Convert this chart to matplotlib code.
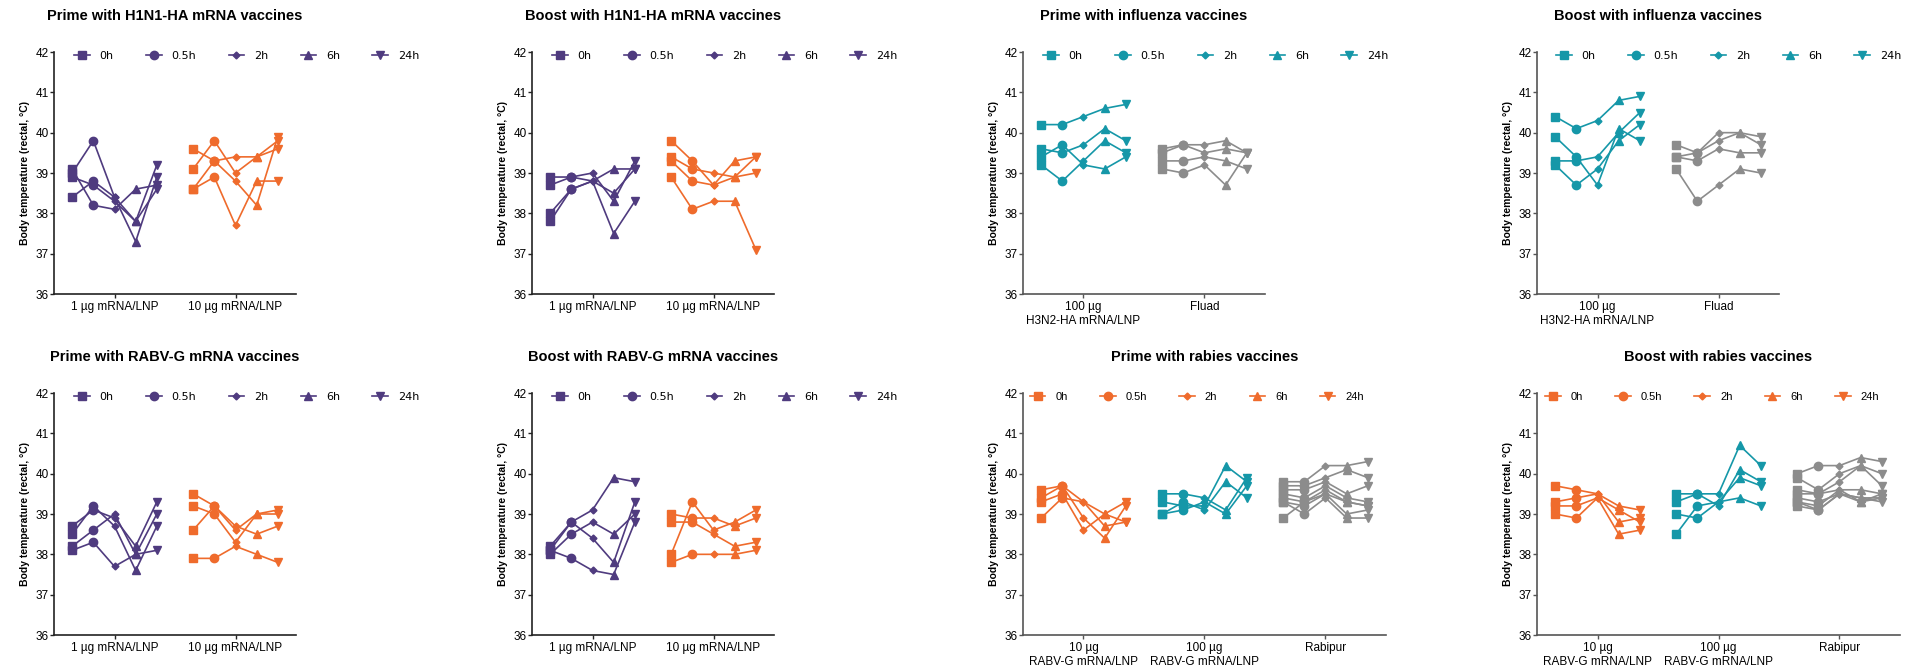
import numpy as np
import matplotlib
matplotlib.use("Agg")
import matplotlib.pyplot as plt
from matplotlib.lines import Line2D

plt.rcParams['font.family'] = ['Liberation Sans', 'DejaVu Sans']

times = ['0h', '0.5h', '2h', '6h', '24h']
markers = ['s', 'o', 'D', '^', 'v']
msizes = [6, 6, 3.5, 5.5, 5.5]

purple = '#4f3b7f'
orange = '#ef6b2c'
teal = '#1597a8'
gray = '#8c8c8c'

# temperatures per animal, columns = 0h, 0.5h, 2h, 6h, 24h
prime_h1n1_1ug = [[38.4, 38.8, 38.4, 37.8, 39.2],
                  [39.0, 39.8, 38.4, 37.3, 38.9],
                  [39.1, 38.2, 38.1, 38.6, 38.7],
                  [38.9, 38.7, 38.3, 37.8, 38.6]]
prime_h1n1_10ug = [[39.6, 39.3, 38.8, 38.2, 39.9],
                   [39.1, 39.8, 39.0, 39.4, 39.8],
                   [38.6, 39.3, 39.4, 39.4, 39.6],
                   [38.6, 38.9, 37.7, 38.8, 38.8]]

boost_h1n1_1ug = [[38.9, 38.9, 38.8, 38.5, 39.1],
                  [38.7, 38.9, 39.0, 38.3, 39.3],
                  [38.0, 38.6, 38.8, 39.1, 39.1],
                  [37.8, 38.6, 38.8, 37.5, 38.3]]
boost_h1n1_10ug = [[39.8, 39.3, 38.7, 39.3, 39.4],
                   [39.4, 39.1, 39.0, 38.9, 39.0],
                   [39.3, 38.8, 38.7, 38.9, 39.4],
                   [38.9, 38.1, 38.3, 38.3, 37.1]]

prime_flu_h3n2 = [[40.2, 40.2, 40.4, 40.6, 40.7],
                  [39.6, 39.5, 39.7, 40.1, 39.8],
                  [39.4, 39.7, 39.2, 39.1, 39.4],
                  [39.2, 38.8, 39.3, 39.8, 39.5]]
prime_flu_fluad = [[39.6, 39.7, 39.7, 39.8, 39.5],
                   [39.5, 39.7, 39.5, 39.6, 39.5],
                   [39.3, 39.3, 39.4, 39.3, 39.1],
                   [39.1, 39.0, 39.2, 38.7, 39.5]]

boost_flu_h3n2 = [[40.4, 40.1, 40.3, 40.8, 40.9],
                  [39.9, 39.4, 38.7, 40.1, 39.8],
                  [39.3, 39.3, 39.4, 40.0, 40.5],
                  [39.2, 38.7, 39.1, 39.8, 40.2]]
boost_flu_fluad = [[39.7, 39.5, 40.0, 40.0, 39.7],
                   [39.4, 39.5, 39.8, 40.0, 39.9],
                   [39.4, 39.3, 39.6, 39.5, 39.5],
                   [39.1, 38.3, 38.7, 39.1, 39.0]]

prime_rabv_1ug = [[38.7, 39.1, 38.9, 38.2, 39.3],
                  [38.5, 39.2, 38.7, 37.6, 38.7],
                  [38.2, 38.6, 39.0, 38.0, 39.0],
                  [38.1, 38.3, 37.7, 38.0, 38.1]]
prime_rabv_10ug = [[39.5, 39.2, 38.7, 38.5, 38.7],
                   [39.2, 39.0, 38.3, 39.0, 39.1],
                   [38.6, 39.2, 38.6, 39.0, 39.0],
                   [37.9, 37.9, 38.2, 38.0, 37.8]]

boost_rabv_1ug = [[38.2, 38.8, 39.1, 39.9, 39.8],
                  [38.1, 38.8, 38.4, 37.8, 39.3],
                  [38.0, 38.5, 38.8, 38.5, 39.0],
                  [38.1, 37.9, 37.6, 37.5, 38.8]]
boost_rabv_10ug = [[39.0, 38.9, 38.9, 38.7, 38.9],
                   [38.8, 38.8, 38.5, 38.2, 38.3],
                   [38.0, 39.3, 38.6, 38.8, 39.1],
                   [37.8, 38.0, 38.0, 38.0, 38.1]]

prime_rab_10ug = [[39.6, 39.7, 39.3, 39.0, 38.8],
                  [39.4, 39.7, 38.9, 38.4, 39.2],
                  [39.3, 39.5, 38.6, 39.0, 39.3],
                  [38.9, 39.4, 39.3, 38.7, 38.8]]
prime_rab_100ug = [[39.5, 39.5, 39.4, 39.1, 39.9],
                   [39.3, 39.2, 39.2, 40.2, 39.8],
                   [39.0, 39.3, 39.1, 39.8, 39.4],
                   [39.0, 39.1, 39.3, 39.0, 39.7]]
prime_rab_rabipur = [[39.8, 39.8, 40.2, 40.2, 40.3],
                     [39.7, 39.7, 39.9, 40.1, 39.9],
                     [39.6, 39.6, 39.8, 39.5, 39.7],
                     [39.5, 39.4, 39.7, 39.4, 39.3],
                     [39.4, 39.3, 39.6, 39.3, 39.2],
                     [39.3, 39.2, 39.5, 39.0, 39.1],
                     [39.3, 39.0, 39.4, 38.9, 38.9],
                     [38.9, 39.3, 39.5, 39.3, 39.2]]

boost_rab_10ug = [[39.7, 39.6, 39.5, 38.8, 38.9],
                  [39.3, 39.4, 39.5, 39.2, 39.1],
                  [39.2, 39.2, 39.4, 39.1, 38.8],
                  [39.0, 38.9, 39.4, 38.5, 38.6]]
boost_rab_100ug = [[39.5, 39.5, 39.5, 40.7, 40.2],
                   [39.3, 39.5, 39.2, 40.1, 39.8],
                   [39.0, 38.9, 39.3, 39.9, 39.7],
                   [38.5, 39.2, 39.3, 39.4, 39.2]]
boost_rab_rabipur = [[40.0, 40.2, 40.2, 40.4, 40.3],
                     [39.9, 39.6, 40.0, 40.2, 40.0],
                     [39.6, 39.5, 39.8, 40.2, 39.7],
                     [39.5, 39.5, 39.6, 39.6, 39.5],
                     [39.4, 39.3, 39.5, 39.4, 39.4],
                     [39.3, 39.2, 39.6, 39.3, 39.5],
                     [39.2, 39.1, 39.5, 39.4, 39.3],
                     [39.3, 39.1, 39.5, 39.3, 39.4]]

mrna_labels = ['1 µg mRNA/LNP', '10 µg mRNA/LNP']
flu_labels = ['100 µg\nH3N2-HA mRNA/LNP', 'Fluad']
rab_labels = ['10 µg\nRABV-G mRNA/LNP', '100 µg\nRABV-G mRNA/LNP', 'Rabipur']

offsets = np.array([-0.35, -0.175, 0.0, 0.175, 0.35])

W, H = 1918, 671
fig = plt.figure(figsize=(W / 100, H / 100), dpi=100)


def make_axes(left, top, ngroups):
    width = 121 * ngroups
    height = 242
    return fig.add_axes([left / W, (H - top - height) / H, width / W, height / H])


def draw_panel(ax, title, groups, labels, colors, leg_x, leg_font, spine_col):
    for gi, (data, col) in enumerate(zip(groups, colors)):
        xs = gi + offsets
        for animal in data:
            ax.plot(xs, animal, color=col, lw=1.2, zorder=2)
        arr = np.array(data)
        for ti in range(5):
            ax.plot(np.full(len(arr), xs[ti]), arr[:, ti], ls='none',
                    marker=markers[ti], ms=msizes[ti], color=col, zorder=3)

    ax.set_xlim(-0.5, len(groups) - 0.5)
    ax.set_ylim(36, 42)
    ax.set_yticks(range(36, 43))
    ax.set_xticks(range(len(groups)))
    ax.set_xticklabels(labels, fontsize=8.5)
    ax.tick_params(axis='y', labelsize=8.5, length=3, width=1, color=spine_col, pad=1)
    ax.tick_params(axis='x', length=3, width=1, color=spine_col, pad=2)
    for s in ['top', 'right']:
        ax.spines[s].set_visible(False)
    for s in ['left', 'bottom']:
        ax.spines[s].set_color(spine_col)
        ax.spines[s].set_linewidth(1.2)
    ax.set_ylabel('Body temperature (rectal, °C)', fontsize=7.5, fontweight='bold')
    ax.set_title(title, fontsize=10.5, fontweight='bold', pad=23)

    handles = [Line2D([], [], color=colors[0], lw=1.2, marker=m, ms=ms)
               for m, ms in zip(markers, msizes)]
    ax.legend(handles, times, loc='center left', bbox_to_anchor=(leg_x, 1 - 4 / 242),
              ncol=5, frameon=False, borderpad=0, borderaxespad=0,
              handlelength=1.4, handletextpad=0.9, columnspacing=2.9,
              prop={'family': leg_font, 'size': 8})


ax = make_axes(54, 52, 2)
draw_panel(ax, 'Prime with H1N1-HA mRNA vaccines', [prime_h1n1_1ug, prime_h1n1_10ug],
           mrna_labels, [purple, orange], 0.083, 'DejaVu Sans', '#222222')
ax = make_axes(532, 52, 2)
draw_panel(ax, 'Boost with H1N1-HA mRNA vaccines', [boost_h1n1_1ug, boost_h1n1_10ug],
           mrna_labels, [purple, orange], 0.083, 'DejaVu Sans', '#222222')
ax = make_axes(1023, 52, 2)
draw_panel(ax, 'Prime with influenza vaccines', [prime_flu_h3n2, prime_flu_fluad],
           flu_labels, [teal, gray], 0.083, 'DejaVu Sans', '#555555')
ax = make_axes(1537, 52, 2)
draw_panel(ax, 'Boost with influenza vaccines', [boost_flu_h3n2, boost_flu_fluad],
           flu_labels, [teal, gray], 0.079, 'DejaVu Sans', '#555555')

ax = make_axes(54, 393, 2)
draw_panel(ax, 'Prime with RABV-G mRNA vaccines', [prime_rabv_1ug, prime_rabv_10ug],
           mrna_labels, [purple, orange], 0.083, 'DejaVu Sans', '#222222')
ax = make_axes(532, 393, 2)
draw_panel(ax, 'Boost with RABV-G mRNA vaccines', [boost_rabv_1ug, boost_rabv_10ug],
           mrna_labels, [purple, orange], 0.083, 'DejaVu Sans', '#222222')
ax = make_axes(1023, 393, 3)
draw_panel(ax, 'Prime with rabies vaccines', [prime_rab_10ug, prime_rab_100ug, prime_rab_rabipur],
           rab_labels, [orange, teal, gray], 0.019, 'Liberation Sans', '#555555')
ax = make_axes(1537, 393, 3)
draw_panel(ax, 'Boost with rabies vaccines', [boost_rab_10ug, boost_rab_100ug, boost_rab_rabipur],
           rab_labels, [orange, teal, gray], 0.022, 'Liberation Sans', '#555555')

fig.savefig('out.png', dpi=100)
